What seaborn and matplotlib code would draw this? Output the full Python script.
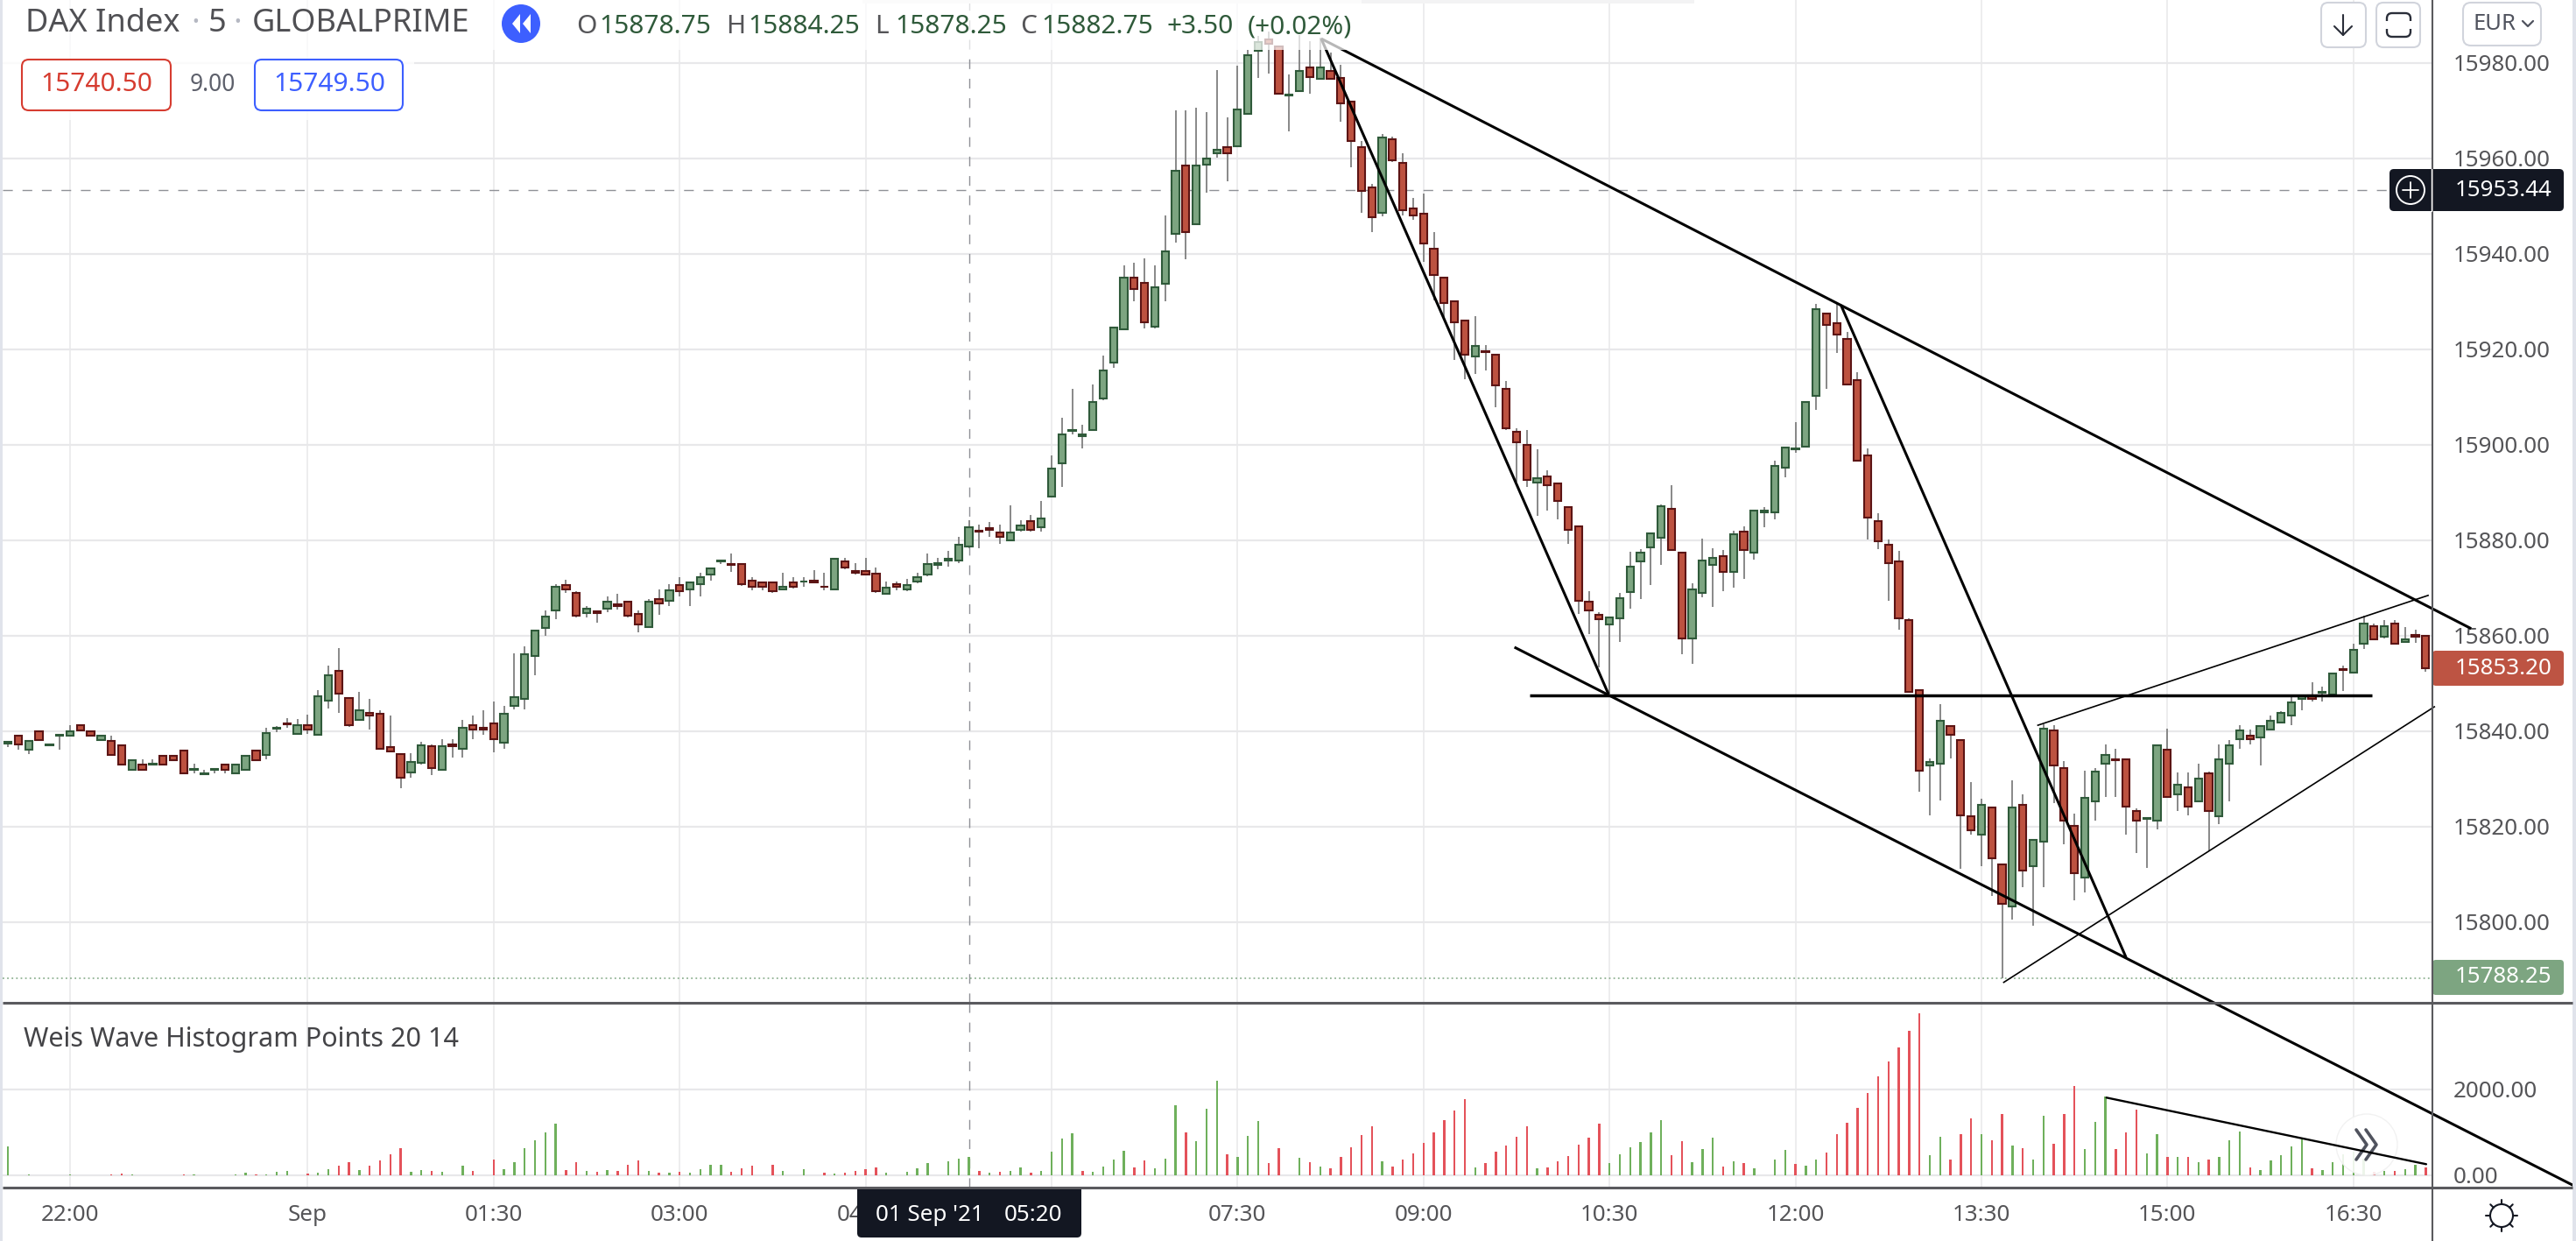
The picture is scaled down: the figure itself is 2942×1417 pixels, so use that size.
import pandas as pd
import numpy as np
import matplotlib
matplotlib.use('Agg')
import matplotlib.pyplot as plt
from matplotlib.patches import FancyBboxPatch, Circle, Rectangle
import seaborn as sns

# 5 minute DAX candles
opens = [
    15837.5,15839.1,15836.1,15840,15837.1,15839.1,15839,15841.2,15840,15838.1,
    15838,15837,15832,15833.1,15833,15834.9,15834.9,15836,15831.9,15831,
    15831.9,15833.1,15831.1,15832,15836,15835,15840.6,15841.6,15839.4,15841.3,
    15839.2,15846.4,15852.7,15847,15842.3,15843.8,15843.7,15836.75,15835.3,15831.3,
    15833.3,15836.8,15831.9,15837.2,15836.3,15841.2,15840.8,15841.7,15837.6,15845.3,
    15846.7,15855.7,15861.7,15865.3,15870.6,15868.9,15864.7,15865.1,15865.75,15866.5,
    15867.2,15864.6,15861.8,15867.6,15867.3,15870.6,15869.7,15870.8,15872.85,15875.6,
    15875,15875.1,15871.6,15871.25,15871.25,15869.7,15871.25,15871.3,15871.6,15870.3,
    15869.7,15875.65,15873.6,15873.6,15873.1,15868.75,15870.8,15869.7,15871.3,15872.8,
    15874.8,15875.8,15875.7,15878.75,15882,15882.6,15881.7,15880,15882.15,15884,
    15882.7,15889.2,15896.1,15902.9,15901.9,15903.05,15909.65,15917.2,15924.2,15935.1,
    15934,15924.7,15933.7,15944.15,15958.6,15946.25,15958.65,15961.1,15962.45,15962.5,
    15969.3,15982.5,15985,15983.55,15973.2,15974.1,15979,15976.7,15978.35,15976.9,
    15971.9,15962.45,15953.95,15948.55,15964.1,15959,15949.6,15948.5,15941,15935.1,
    15930,15926.1,15918.55,15919.7,15918.8,15911.8,15902.8,15900.05,15892.05,15893.45,
    15891.9,15887,15882.95,15867.2,15864.3,15862.3,15863.65,15869.1,15875.5,15878.55,
    15880.55,15886.5,15877.5,15859.4,15868.95,15874.8,15876.75,15873.4,15881.9,15877.45,
    15885.9,15885.8,15895.15,15899.1,15899.55,15910.2,15927.6,15925.55,15922.1,15913.65,
    15897.7,15884.1,15879.15,15875.65,15863.2,15848.6,15832.8,15833.2,15841.15,15838.2,
    15822.25,15818.3,15824.1,15812.15,15803.3,15824.65,15811.7,15816.8,15840.25,15832.2,
    15820.25,15809.35,15825.25,15833.15,15834.1,15834.2,15823.2,15821.7,15821.25,15836.2,
    15826.7,15828.15,15825.25,15831.25,15822.25,15833.15,15838.3,15839.15,15838.65,15840.3,
    15841.8,15843.25,15846.75,15847.45,15848.1,15847.65,15853.1,15852.2,15858.3,15862,
    15859.75,15862.55,15858.7,15860.1,15860,
]
highs = [
    15837.8,15839.1,15838,15840,15837.3,15839.4,15841.2,15841.2,15840,15839,
    15839,15837,15834,15834.2,15834.2,15834.9,15834.9,15836,15833.2,15832,
    15832.3,15833.1,15833.1,15834.9,15836,15840.75,15841,15842.75,15842.5,15843.5,
    15848.6,15853.7,15857.5,15847.2,15848.2,15846.7,15844.3,15843.2,15835.3,15835.4,
    15837.7,15837.25,15838.3,15838.3,15842.3,15843.2,15844.4,15846.2,15845.3,15856.3,
    15857.8,15861.1,15865.3,15870.8,15871.7,15869.3,15866.2,15865.2,15868.25,15868.75,
    15867.2,15865.25,15867.6,15869.7,15870.8,15872.2,15871.25,15873.2,15874.2,15875.9,
    15877.2,15875.1,15872.2,15871.25,15871.25,15873.2,15872.2,15872.2,15873.8,15873.2,
    15876.2,15876.25,15875.2,15876.25,15874.25,15871.3,15871.3,15871.9,15873.15,15877.2,
    15876.25,15877.75,15880.7,15884.25,15883.25,15883.85,15883.25,15887.3,15884.15,15885.25,
    15888.25,15897.8,15905.6,15911.75,15904.15,15912.6,15918.7,15924.65,15937.55,15938.15,
    15939.1,15937.55,15948.1,15970.1,15970.1,15970.6,15969.7,15978.5,15968.55,15979.45,
    15982.8,15985.75,15986.6,15983.55,15977.6,15985.9,15984.5,15985.25,15982.2,15979.6,
    15971.9,15963.6,15954.7,15965.1,15964.6,15961,15951.75,15952.65,15944.5,15935.1,
    15930,15926.1,15926.9,15920.85,15918.8,15913.4,15903.5,15903.05,15899,15894.6,
    15891.9,15887,15882.95,15869.35,15864.95,15863.85,15869.05,15877.6,15878.1,15881.5,
    15887.5,15891.55,15877.5,15871,15880.4,15878.35,15877.9,15882,15882.95,15886.3,
    15886.9,15896.6,15899.5,15904.7,15909.05,15929.6,15927.6,15929.6,15923.6,15915.15,
    15899.2,15885.7,15880.2,15877.75,15863.6,15848.6,15834.3,15845.7,15841.15,15838.2,
    15829.3,15825.8,15824.1,15812.15,15829.7,15826.8,15817.15,15841.5,15841.2,15833.75,
    15822.75,15831.75,15832.2,15837.25,15836.3,15834.2,15823.8,15822,15837.1,15840.6,
    15831.3,15831.3,15833.2,15831.6,15837.25,15838.2,15841.2,15840.4,15841.15,15843.25,
    15844.15,15847.35,15847.5,15850.2,15849.3,15852.15,15853.75,15858.3,15864.15,15862.6,
    15863.25,15863.25,15861.85,15861.2,15860,
]
lows = [
    15836.75,15836.2,15835.3,15838.1,15837.1,15836.2,15839,15840.1,15839,15838.1,
    15835,15833.1,15832,15832,15832.8,15833.1,15834,15831.1,15831.25,15831,
    15831.25,15831.25,15831.1,15832,15834,15834.2,15839.8,15840.8,15839.4,15839.5,
    15839.2,15844.8,15843.9,15840.9,15842.3,15840.4,15836.3,15835.5,15828.1,15830.3,
    15833,15830.9,15831.9,15834.4,15834.4,15838.4,15839.3,15835.5,15836.3,15844.5,
    15844.5,15851.7,15859.9,15863.4,15868.9,15863.9,15863.9,15862.8,15864.9,15865.4,
    15863.9,15860.8,15861.8,15864.3,15866.3,15868.3,15866.3,15868.3,15871.5,15875,
    15873.3,15870.4,15869.5,15869.5,15868.9,15869.7,15869.85,15870.3,15870.95,15869.5,
    15869.7,15873.9,15872.9,15872.8,15868.9,15868.75,15869.5,15869.35,15870.95,15872.4,
    15873.9,15874.4,15875.3,15878.25,15878.4,15880.8,15879.3,15880,15881.9,15881.9,
    15881.9,15888.9,15891.2,15902.25,15899.3,15903.05,15909.3,15916.2,15924.2,15930.1,
    15924.3,15924.3,15930.1,15942.3,15938.8,15946.25,15952.85,15960.2,15955.15,15962.5,
    15969.3,15976.8,15977.7,15973.5,15965.75,15973.9,15973.6,15976.7,15976.7,15967.75,
    15958.2,15948.7,15944.65,15947.85,15959.2,15948.1,15947.2,15938.3,15930.2,15926.65,
    15917.7,15913.7,15914.9,15915.55,15907.95,15903.05,15892.3,15891.25,15885.2,15886.3,
    15884.35,15879.3,15864.5,15860.4,15853.45,15847.9,15858.65,15865.75,15867.65,15870.7,
    15874.8,15877.9,15856.1,15854.05,15868,15865.95,15869.4,15870,15872,15876,
    15882.75,15884.45,15893.2,15898.3,15899.55,15907.3,15911.75,15919.3,15912.4,15896.6,
    15880.25,15878.2,15867.4,15861.35,15848.2,15827.3,15822.45,15825.4,15834.3,15811.25,
    15818.3,15811.8,15805.45,15788.25,15800.45,15807.4,15799.3,15807.4,15825,15816.4,
    15804.5,15806.3,15821.35,15826.3,15826.25,15818.4,15814.4,15811.4,15819.4,15826.2,
    15823.35,15822.45,15825.25,15815.1,15820.45,15825.3,15836.3,15837.25,15832.85,15840.1,
    15841.6,15841.35,15844.3,15846.3,15846.3,15847.65,15848.4,15852.2,15857.3,15859.25,
    15859.4,15858.3,15858.7,15858.45,15852.4,
]
closes = [
    15837.8,15837.2,15838,15838.1,15837.3,15839.3,15840,15840.1,15839,15839,
    15835,15833.1,15834,15832,15833.2,15833.1,15834,15831.1,15832.1,15831.2,
    15832.1,15832,15833.1,15834.9,15834,15839.7,15840.8,15841.4,15841.3,15840.3,
    15847.4,15851.8,15847.8,15841.2,15844.3,15843.2,15836.3,15835.7,15830.2,15833.6,
    15837.1,15832.2,15836.8,15836.8,15840.8,15840.3,15840.3,15838.3,15843.7,15847.2,
    15856.2,15861.1,15864.1,15870.2,15869.7,15864.2,15865.75,15864.7,15867.2,15866.2,
    15864.2,15862.3,15867.2,15866.7,15869.5,15869.3,15871.25,15872.2,15874.2,15875.8,
    15874.8,15870.8,15870.2,15870.2,15869.3,15870.2,15870.2,15871.4,15871.2,15870.2,
    15876.2,15874.25,15873.15,15872.8,15869.35,15870.15,15870.2,15870.7,15872.2,15875.05,
    15875.15,15876.2,15879.15,15882.75,15881.8,15882.15,15880.7,15881.7,15883.1,15882.15,
    15884.65,15895.1,15902.1,15903.1,15902.1,15909.05,15915.65,15924.65,15935.1,15932.65,
    15925.6,15933.1,15940.6,15957.5,15944.5,15958.6,15960.05,15961.9,15961.05,15970.35,
    15981.55,15984.45,15984,15973.5,15973.4,15978.4,15977,15979,15976.7,15971.5,
    15963.65,15953.2,15947.65,15964.45,15959.6,15949.2,15948.1,15942.15,15935.6,15929.7,
    15925.6,15918.85,15920.8,15919.45,15912.4,15903.4,15900.5,15892.6,15893.1,15891.6,
    15888.2,15882.2,15867.3,15865.25,15863.45,15863.85,15867.95,15874.55,15877.5,15881.5,
    15887.05,15877.9,15859.4,15869.8,15875.85,15876.4,15873.35,15881.35,15877.9,15886.3,
    15886.3,15895.65,15899.5,15899.3,15909.05,15928.5,15925.1,15923.05,15912.6,15896.6,
    15884.8,15879.75,15875.15,15863.7,15848.2,15831.75,15833.65,15842.1,15839.2,15822.3,
    15819.2,15824.65,15813.35,15803.8,15824.1,15810.75,15817.15,15840.6,15832.8,15821.3,
    15810.3,15826.1,15831.6,15835.1,15833.85,15824.15,15821.25,15821.9,15837.1,15826.2,
    15828.7,15824.15,15830.15,15823.25,15834.2,15837.1,15840.25,15838.3,15841.15,15842.15,
    15843.8,15846.1,15847.35,15846.75,15848.3,15852.15,15852.8,15857.1,15862.55,15859.25,
    15862,15858.3,15859.2,15859.85,15853.2,
]

# weis wave histogram, negative means a red (down) wave
wave = [
    666,0,20,0,0,0,20,0,0,0,
    -15,-35,15,-8,-8,-8,-8,-15,25,-8,
    -8,-8,15,55,-15,20,75,95,0,-40,
    55,140,-225,-305,120,-215,-340,-480,-625,75,
    120,-110,75,0,215,-100,0,-365,140,300,
    625,820,1000,1205,-120,-305,110,-75,115,-100,
    -245,-340,100,-55,60,-80,55,150,245,245,
    -80,-170,-215,0,-250,100,0,135,0,-60,
    50,-60,-100,-135,-185,55,0,80,165,280,
    0,325,380,420,-95,55,-80,100,175,-60,
    95,550,850,980,-100,75,210,365,580,-185,
    -345,165,380,1640,-990,795,1550,2200,-480,430,
    910,1260,-285,-625,0,415,-315,205,-155,-430,
    -645,-940,-1140,325,-210,-365,-505,-755,-1000,-1285,
    -1510,-1770,175,-280,-550,-685,-890,-1140,165,-175,
    -325,-440,-705,-870,-1210,280,490,645,770,1000,
    1285,-460,-795,310,620,870,-205,320,-285,165,
    0,365,585,-260,220,365,-535,-960,-1225,-1565,
    -1920,-2300,-2645,-2980,-3360,-3770,460,905,-365,-960,
    -1335,965,-810,-1420,685,-625,365,1380,-740,-1420,
    -2090,605,1250,1840,-605,-1000,-1525,510,960,-420,
    420,-420,300,-375,435,810,1015,-175,120,340,
    460,675,835,-165,120,300,480,550,380,-75,
    95,-100,140,240,-190,
]

# the 06:00 label sits fully under the crosshair tag in the screenshot
time_bars = [6, 29, 47, 65, 83, 101, 119, 137, 155, 173, 191, 209, 227]
time_labels = ['22:00', 'Sep', '01:30', '03:00', '04:30', '', '07:30',
               '09:00', '10:30', '12:00', '13:30', '15:00', '16:30']
price_ticks = list(range(15800, 15981, 20))
wave_ticks = [0, 2000]

# drawn trend lines as (bar, price) pairs
thick_lines = [
    ((127.1, 15985.1), (238.4, 15861.5)),
    ((127.1, 15985.1), (154.9, 15847.8)),
    ((145.8, 15857.6), (248.5, 15744.6)),
    ((177.4, 15929.3), (205.0, 15792.6)),
]
level_line = ((147.3, 15847.5), (228.8, 15847.5))
thin_lines = [
    ((196.4, 15841.2), (234.3, 15868.5)),
    ((193.1, 15787.3), (234.9, 15845.2)),
]
wave_line = ((203.1, 1810), (234.05, 259))

crosshair_bar = 93
crosshair_price = 15953.44
low_price = 15788.25

UP_FILL, UP_EDGE = '#7da581', '#2f5a3a'
DOWN_FILL, DOWN_EDGE = '#bd5240', '#5c1414'
GRID = '#e8e8ea'
AXIS = '#5a5a5e'
TXT = '#555558'
DARK = '#131722'

sns.set_theme(style='white')
plt.rcParams['font.family'] = ['Noto Sans', 'DejaVu Sans']
plt.rcParams['lines.scale_dashes'] = False

W, H = 2942, 1417
fig = plt.figure(figsize=(W / 100, H / 100), dpi=100, facecolor='white')


def px_axes(left, top, right, bottom, z):
    a = fig.add_axes([left / W, 1 - bottom / H, (right - left) / W, (bottom - top) / H])
    a.set_zorder(z)
    a.patch.set_alpha(0)
    for s in a.spines.values():
        s.set_visible(False)
    return a


ax_ind = px_axes(3, 1145, 2778, 1356, 1)
ax_mid = px_axes(0, 0, W, H, 2)
ax_main = px_axes(3, 0, 2778, 1145, 3)
ui = px_axes(0, 0, W, H, 4)
for a in (ax_mid, ui):
    a.set_xlim(0, W)
    a.set_ylim(H, 0)
    a.axis('off')

bar_xlim = (-0.525, 234.65)

# indicator panel
wave_df = pd.DataFrame({'bar': np.arange(len(wave)), 'size': np.abs(wave),
                        'side': ['up' if w >= 0 else 'down' for w in wave]})
sns.barplot(data=wave_df, x='bar', y='size', hue='side', native_scale=True,
            palette={'up': '#6fb05c', 'down': '#e4525a'}, width=0.2, dodge=False,
            saturation=1, legend=False, ax=ax_ind, zorder=3, antialiased=False, lw=0)
ax_ind.set_xlabel('')
ax_ind.set_ylabel('')
ax_ind.set_xlim(*bar_xlim)
ax_ind.set_ylim(-286, 4020)
ax_ind.set_xticks(time_bars, time_labels)
ax_ind.set_yticks(wave_ticks, ['0.00', '2000.00'])
ax_ind.yaxis.tick_right()
ax_ind.tick_params(axis='x', length=0, pad=14, labelsize=18.7, colors=TXT)
ax_ind.tick_params(axis='y', length=0, pad=17, labelsize=18.7, colors=TXT)
ax_ind.set_axisbelow(True)
ax_ind.grid(axis='x', color=GRID, lw=1.1)
ax_ind.grid(axis='y', color=GRID, lw=1.6)
ax_ind.axvline(crosshair_bar, color='#8f9197', lw=1.0, ls=(0, (8, 8)), zorder=2)
ax_ind.text(0.0088, 0.80, 'Weis Wave Histogram Points 20 14', transform=ax_ind.transAxes,
            fontsize=22, color='#444447', va='center', ha='left')

# candles
bars = np.arange(len(opens))
o = np.array(opens)
c = np.array(closes)
up = c >= o
ax_main.set_xlim(*bar_xlim)
ax_main.set_ylim(15783.1, 15993.2)
ax_main.set_xticks(time_bars, [])
ax_main.set_yticks(price_ticks, [f'{p:.2f}' for p in price_ticks])
ax_main.yaxis.tick_right()
ax_main.tick_params(axis='x', length=0)
ax_main.tick_params(axis='y', length=0, pad=17, labelsize=18.7, colors=TXT)
ax_main.set_axisbelow(True)
ax_main.grid(axis='x', color=GRID, lw=1.1)
ax_main.grid(axis='y', color=GRID, lw=1.6)
ax_main.axvline(crosshair_bar, color='#8f9197', lw=1.0, ls=(0, (8, 8)), zorder=2)
ax_main.axhline(crosshair_price, color='#8f9197', lw=1.0, ls=(0, (8, 8)), zorder=2)
ax_main.axhline(low_price, color=UP_FILL, lw=1.1, ls=(0, (1.3, 2.4)), zorder=2)
ax_main.vlines(bars, lows, highs, color='#7f7f7f', lw=1.3, zorder=3)
ax_main.bar(bars[up], (c - o)[up], bottom=o[up], width=0.7, color=UP_FILL,
            edgecolor=UP_EDGE, lw=1.5, zorder=4)
ax_main.bar(bars[~up], (c - o)[~up], bottom=o[~up], width=0.7, color=DOWN_FILL,
            edgecolor=DOWN_EDGE, lw=1.5, zorder=4)

for (x0, y0), (x1, y1) in thick_lines:
    ax_main.plot([x0, x1], [y0, y1], color='black', lw=2.2, clip_on=False, zorder=6,
                 solid_capstyle='butt')
ax_main.plot([level_line[0][0], level_line[1][0]], [level_line[0][1], level_line[1][1]],
             color='black', lw=2.5, zorder=6, solid_capstyle='butt')
for (x0, y0), (x1, y1) in thin_lines:
    ax_main.plot([x0, x1], [y0, y1], color='black', lw=1.2, clip_on=False, zorder=6,
                 solid_capstyle='butt')
ax_main.plot([wave_line[0][0], wave_line[1][0]], [wave_line[0][1], wave_line[1][1]],
             color='black', lw=1.7, transform=ax_ind.transData, clip_on=False, zorder=6)

# floating ">>" button sits under the drawn lines
ax_mid.add_patch(Circle((2703, 1307), 35, facecolor='white', edgecolor='#f0f0f0', alpha=0.88, lw=1))
for dx in (-9, 2):
    ax_mid.plot([2700 + dx, 2712 + dx, 2700 + dx], [1290, 1307, 1324], color='#50535e', lw=2.6)


def box(x0, y0, x1, y1, fc='white', ec='none', lw=1.5, r=6, **kw):
    ui.add_patch(FancyBboxPatch((x0 + r, y0 + r), x1 - x0 - 2 * r, y1 - y0 - 2 * r,
                                boxstyle=f'round,pad={r},rounding_size={r}',
                                facecolor=fc, edgecolor=ec, lw=lw, **kw))


def label(x, y, s, color=TXT, size=21.5, ha='left', **kw):
    ui.text(x, y, s, color=color, fontsize=size, ha=ha, va='center', **kw)


# frame pieces
ui.add_patch(Rectangle((0, 0), 3.5, H, facecolor='#e0e3eb', lw=0))
ui.add_patch(Rectangle((2938, 0), 4, H, facecolor='#e0e3eb', lw=0))
ui.add_patch(Rectangle((985, 0), 950, 4, facecolor='#f3f3f4', lw=0))
ui.plot([3, 2938], [1145, 1145], color=AXIS, lw=2.2, solid_capstyle='butt')
ui.plot([3, 2938], [1356, 1356], color=AXIS, lw=2.2, solid_capstyle='butt')
ui.plot([2778, 2778], [0, H], color=AXIS, lw=1.5, solid_capstyle='butt')

# legend area washes out what runs under it
ui.add_patch(Rectangle((3, 0), 1552, 57, facecolor='white', alpha=0.72, lw=0))
ui.add_patch(Rectangle((3, 57), 470, 80, facecolor='white', alpha=0.8, lw=0))

label(29, 27, 'DAX Index', size=26, color='#505054')
label(218, 27, '·', size=26, color='#b5b8c2')
label(238, 27, '5', size=26, color='#505054')
label(266, 27, '·', size=26, color='#b5b8c2')
label(288, 27, 'GLOBALPRIME', size=26, color='#505054')

ui.add_patch(Circle((595, 27), 22, facecolor='#3d5fff', lw=0))
for dx in (-8, 4):
    ui.fill([dx + 593, dx + 602, dx + 602], [27, 16, 38], color='white', lw=0)

green = '#2f5a3a'
for x, s, col in [(658, 'O', TXT), (684, '15878.75', green), (829, 'H', TXT), (854, '15884.25', green),
                  (999, 'L', TXT), (1022, '15878.25', green), (1165, 'C', TXT), (1189, '15882.75', green),
                  (1333, '+3.50', green), (1425, '(+0.02%)', green)]:
    label(x, 31, s, color=col)

box(25, 68, 195, 126, ec='#d63c30', lw=1.5, r=8)
label(110, 97, '15740.50', color='#d63c30', ha='center')
label(243, 97, '9.00', color='#5d606b', ha='center', size=19)
box(291, 68, 460, 126, ec='#3d5fff', lw=1.5, r=8)
label(376, 97, '15749.50', color='#3d5fff', ha='center')

# top right buttons
box(2651, 3, 2702, 54, ec='#d1d4dc', lw=1.5, r=8)
ui.plot([2676, 2676], [17, 40], color='#2a2e39', lw=1.5)
ui.plot([2666, 2676, 2686], [30, 40, 30], color='#2a2e39', lw=1.5)
box(2714, 3, 2764, 54, ec='#d1d4dc', lw=1.5, r=8)
box(2726, 15, 2753, 42, ec='#2a2e39', lw=1.7, r=6)
ui.add_patch(Rectangle((2722, 24), 36, 9, facecolor='white', lw=0))
box(2813, 3, 2902, 52, ec='#d1d4dc', lw=1.5, r=9)
label(2825, 27, 'EUR', size=18.5, color='#50535e')
ui.plot([2881, 2887, 2893], [24, 30, 24], color='#50535e', lw=1.6)

# price tags on the axis
box(2729, 193, 2928, 241, fc=DARK, r=5)
ui.plot([2777, 2777], [193, 241], color='white', lw=1)
ui.add_patch(Circle((2753, 217), 16, facecolor='none', edgecolor='white', lw=1.4))
ui.plot([2744, 2762], [217, 217], color='white', lw=1.3)
ui.plot([2753, 2753], [208, 226], color='white', lw=1.3)
label(2804, 217, '15953.44', color='white', size=18.7)
box(2778, 743, 2928, 783, fc='#bd5443', r=4)
label(2804, 763, '15853.20', color='white', size=18.7)
box(2778, 1096, 2928, 1136, fc='#7da581', r=4)
label(2804, 1116, '15788.25', color='white', size=18.7)

# crosshair time tag
box(979, 1358, 1235, 1413, fc=DARK, r=5)
ui.add_patch(Rectangle((979, 1356), 256, 12, facecolor=DARK, lw=0))
label(1000, 1388, "01 Sep '21", color='white', size=18.7)
label(1147, 1388, '05:20', color='white', size=18.7)

# theme toggle icon
ui.add_patch(Circle((2857, 1388), 13, facecolor='none', edgecolor='#131722', lw=1.5))
for a in np.deg2rad(np.arange(0, 360, 45)):
    ui.plot([2857 + 13 * np.cos(a), 2857 + 18 * np.cos(a)],
            [1388 + 13 * np.sin(a), 1388 + 18 * np.sin(a)], color='#131722', lw=1.5)

plt.savefig('out.png', dpi=100, facecolor='white')
